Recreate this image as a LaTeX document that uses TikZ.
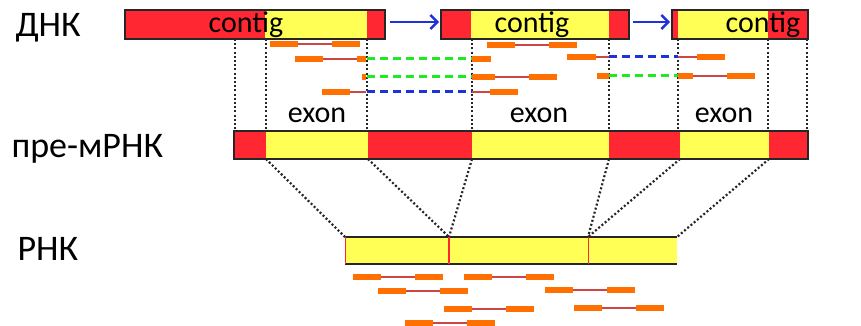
\documentclass[tikz,border=0pt]{standalone}
\usepackage{fontspec}
\setmainfont{Carlito}
\usetikzlibrary{arrows.meta}

\definecolor{barred}{RGB}{255,40,50}
\definecolor{baryellow}{RGB}{255,255,85}
\definecolor{readorange}{RGB}{255,112,0}
\definecolor{linkred}{RGB}{205,70,70}
\definecolor{gapgreen}{RGB}{30,235,30}
\definecolor{gapblue}{RGB}{30,50,220}

\begin{document}
\begin{tikzpicture}[x=1pt,y=-1pt,
    outline/.style={draw=black!85, line width=1.4pt},
    dots/.style={black!85, line width=2.2pt, dash pattern=on 2pt off 2.2pt},
    block/.style={readorange, line width=6pt},
    link/.style={linkred, line width=1.1pt},
    greengap/.style={gapgreen, line width=3pt, dash pattern=on 8pt off 5pt},
    bluegap/.style={gapblue, line width=3pt, dash pattern=on 8pt off 5pt},
    jump/.style={gapblue, line width=2.4pt, -{Straight Barb[length=7pt,width=14pt]}},
    big/.style={anchor=base west, font=\fontsize{36}{40}\selectfont},
    small/.style={anchor=base, font=\fontsize{30}{36}\selectfont}]
  \useasboundingbox (0,0) rectangle (861,326);

  % labels on the left
  \node[big] (dna) at (12,37) {ДНК};
  \node[big] (premrna) at (8,157) {пре-мРНК};
  \node[big] (rna) at (14,260) {РНК};

  % dotted lines from the contigs down to the pre-mRNA
  \foreach \x in {235,266,367,472,609,678,768,807}
    \draw[dots] (\x,39) -- (\x,131);
  % dotted lines from the exons down to the RNA
  \draw[dots] (266,159) -- (345,237);
  \draw[dots] (368,159) -- (449,237);
  \draw[dots] (472,159) -- (449,237);
  \draw[dots] (609,159) -- (588,237);
  \draw[dots] (680,159) -- (588,237);
  \draw[dots] (769,159) -- (677,237);

  % contigs
  \foreach \a/\b/\c in {125/265/barred, 265/367/baryellow, 367/385/barred,
                        441/471/barred, 471/609/baryellow, 609/629/barred,
                        672/678/barred, 678/768/baryellow, 768/808/barred}
    \fill[\c] (\a,10) rectangle (\b,39);
  \draw[outline] (125,10) rectangle (385,39);
  \draw[outline] (441,10) rectangle (629,39);
  \draw[outline] (672,10) rectangle (808,39);
  \node[small] (contigA) at (246,33) {contig};
  \node[small] (contigB) at (532,33) {contig};
  \node[small] (contigC) at (763,33) {contig};
  \draw[jump] (390,22) -- (439,22);
  \draw[jump] (633,22) -- (670,22);

  % reads inside one contig
  \foreach \x/\y in {270/44, 487/45} {
    \draw[link] (\x+28,\y) -- (\x+62,\y);
    \draw[block] (\x,\y) -- +(28,0);
    \draw[block] (\x+62,\y) -- +(28,0);
  }
  % read pairs that span the gaps
  \draw[greengap] (367,59) -- (472,59);
  \draw[link] (323,59) -- (357,59);
  \draw[block] (295,59) -- (323,59);
  \draw[block] (357,59) -- (366,59);
  \draw[block] (472,59) -- (491,59);

  \draw[greengap] (367,77) -- (472,77);
  \draw[link] (495,77) -- (529,77);
  \draw[block] (362,77) -- (366,77);
  \draw[block] (472,77) -- (495,77);
  \draw[block] (529,77) -- (557,77);

  \draw[bluegap] (367,92) -- (472,92);
  \draw[link] (350,92) -- (366,92);
  \draw[link] (472,92) -- (490,92);
  \draw[block] (322,92) -- (350,92);
  \draw[block] (490,92) -- (518,92);

  \draw[bluegap] (609,57) -- (678,57);
  \draw[link] (596,57) -- (609,57);
  \draw[link] (678,57) -- (697,57);
  \draw[block] (567,57) -- (596,57);
  \draw[block] (697,57) -- (725,57);

  \draw[greengap] (609,76) -- (678,76);
  \draw[link] (693,76) -- (727,76);
  \draw[block] (597,76) -- (609,76);
  \draw[block] (678,76) -- (693,76);
  \draw[block] (727,76) -- (755,76);

  % pre-mRNA
  \foreach \a/\b/\c in {234/266/barred, 266/368/baryellow, 368/472/barred,
                        472/609/baryellow, 609/680/barred, 680/769/baryellow,
                        769/808/barred}
    \fill[\c] (\a,131) rectangle (\b,159);
  \draw[outline] (234,131) rectangle (808,159);
  \node[small] (exonA) at (317,123) {exon};
  \node[small] (exonB) at (539,123) {exon};
  \node[small] (exonC) at (724,123) {exon};

  % RNA
  \fill[baryellow] (345,237) rectangle (677,264);
  \draw[outline] (345,237) -- (677,237);
  \draw[outline] (345,264) -- (677,264);
  \draw[barred, line width=1pt] (345,237) -- (345,264);
  \draw[barred, line width=1.6pt] (449,237) -- (449,264);
  \draw[barred, line width=1pt] (588,237) -- (588,264);

  % reads on the RNA
  \foreach \x/\y in {353/277, 464/277, 378/291, 545/290, 444/309, 574/308, 405/323} {
    \draw[link] (\x+28,\y) -- (\x+62,\y);
    \draw[block] (\x,\y) -- +(28,0);
    \draw[block] (\x+62,\y) -- +(28,0);
  }
\end{tikzpicture}
\end{document}
